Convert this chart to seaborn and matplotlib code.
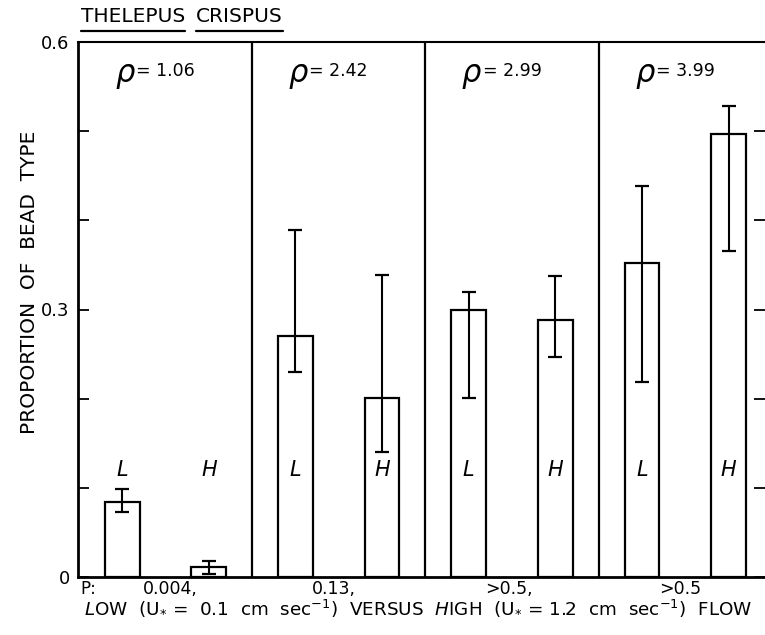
import matplotlib
matplotlib.use("Agg")
import matplotlib.pyplot as plt
import matplotlib.transforms as mtransforms
from matplotlib.lines import Line2D
import seaborn as sns
import pandas as pd

# ---- data ----
rho_values = ["1.06", "2.42", "2.99", "3.99"]
flow_types = ["L", "H"]
bar_ids = ["L1", "H1", "L2", "H2", "L3", "H3", "L4", "H4"]
proportion = [0.084, 0.011, 0.270, 0.201, 0.299, 0.288, 0.352, 0.497]
ci_low = [0.073, 0.003, 0.230, 0.140, 0.201, 0.247, 0.219, 0.366]
ci_high = [0.099, 0.018, 0.389, 0.339, 0.320, 0.338, 0.438, 0.528]
p_values = ["0.004,", "0.13,", ">0.5,", ">0.5"]
ytick_values = [0, 0.1, 0.2, 0.3, 0.4, 0.5, 0.6]
ytick_labels = ["0", "", "", "0.3", "", "", "0.6"]

df = pd.DataFrame({"bar": bar_ids, "proportion": proportion})

sns.set_style("ticks")
plt.rcParams["font.family"] = ["DejaVu Sans"]
plt.rcParams["mathtext.fontset"] = "dejavusans"
plt.rcParams["text.color"] = "black"
plt.rcParams["xtick.color"] = "black"
plt.rcParams["ytick.color"] = "black"
plt.rcParams["ytick.labelcolor"] = "black"

fig = plt.figure(figsize=(7.65, 6.35), dpi=100)
ax = fig.add_axes([78 / 765, 1 - 577 / 635, 1 - 78 / 765, (577 - 42) / 635])

sns.barplot(data=df, x="bar", y="proportion", order=bar_ids, color="white",
            edgecolor="black", linewidth=1.6, width=0.40, saturation=1,
            errorbar=None, ax=ax)

xs = list(range(len(bar_ids)))
lower = [p - lo for p, lo in zip(proportion, ci_low)]
upper = [hi - p for p, hi in zip(proportion, ci_high)]
ax.errorbar(xs, proportion, yerr=[lower, upper], fmt="none", ecolor="black",
            elinewidth=1.5, capsize=5, capthick=1.6, zorder=5)

ax.set_xlim(-0.51, 7.42)
ax.set_ylim(0, 0.6)

# panel dividers
for k in range(1, len(rho_values)):
    ax.axvline(2 * k - 0.5, color="black", lw=1.6, zorder=3)

# L / H letters
for i, b in enumerate(bar_ids):
    ax.text(i, 0.12, flow_types[i % 2], ha="center", va="center",
            fontsize=15, fontstyle="italic", color="black", zorder=6)

# rho labels
for k, r in enumerate(rho_values):
    cx = 2 * k + 0.45
    ax.annotate("ρ", xy=(cx, 0.568), xytext=(-19, -3), textcoords="offset points",
                ha="right", va="center", fontsize=22, fontstyle="italic",
                fontweight="light", color="black")
    ax.annotate("= " + r, xy=(cx, 0.568), xytext=(-18, 0), textcoords="offset points",
                ha="left", va="center", fontsize=12.5, color="black")

# p values below axis
trans = mtransforms.blended_transform_factory(ax.transData, ax.transAxes)
ax.text(-0.48, -0.022, "P:", transform=trans, ha="left", va="center", fontsize=12)
p_x = [0.55, 2.44, 4.46, 6.44]
for px, pv in zip(p_x, p_values):
    ax.text(px, -0.022, pv, transform=trans, ha="center", va="center", fontsize=12.5)

ax.text(3.42, -0.058,
        r"$\mathit{L}$OW  (U$_{*}$ =  0.1  cm  sec$^{-1}$)  VERSUS  $\mathit{H}$IGH  (U$_{*}$ = 1.2  cm  sec$^{-1}$)  FLOW",
        transform=trans, ha="center", va="center", fontsize=13.2)

# axes styling
ax.set_yticks(ytick_values)
ax.set_yticklabels(ytick_labels, fontsize=13)
ax.set_xticks([])
ax.set_xlabel("")
ax.set_ylabel("")
ax.tick_params(axis="y", direction="in", length=8, width=1.3, left=True,
               right=True, pad=6, colors="black")
for side in ["left", "top", "bottom"]:
    ax.spines[side].set_visible(True)
    ax.spines[side].set_color("black")
ax.spines["left"].set_linewidth(2.0)
ax.spines["bottom"].set_linewidth(2.0)
ax.spines["top"].set_linewidth(1.5)
ax.spines["right"].set_visible(False)

fig.text(30 / 765, 1 - 282 / 635, "PROPORTION  OF  BEAD  TYPE", rotation=90,
         ha="center", va="center", fontsize=14.5)

# title with underlined words
t1 = fig.text(81 / 765, 1 - 17 / 635, "THELEPUS", ha="left", va="center", fontsize=14.5)
fig.canvas.draw()
r = fig.canvas.get_renderer()
bb1 = t1.get_window_extent(r)
t2 = fig.text((bb1.x1 + 11) / 765, 1 - 17 / 635, "CRISPUS", ha="left", va="center",
              fontsize=14.5)
fig.canvas.draw()
bb2 = t2.get_window_extent(r)
for bb in (bb1, bb2):
    yline = 1 - 31 / 635
    fig.add_artist(Line2D([bb.x0 / 765, bb.x1 / 765], [yline, yline],
                          transform=fig.transFigure, color="black", lw=1.6))

fig.savefig("out.png", dpi=100)
